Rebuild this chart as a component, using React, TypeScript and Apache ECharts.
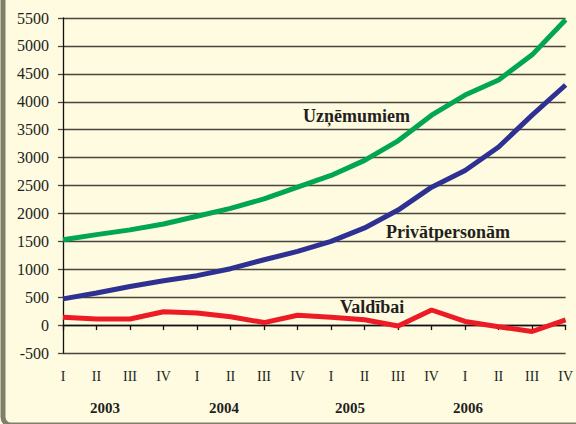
import React, { useEffect, useRef } from "react";
import * as echarts from "echarts";

const quarters = ["I", "II", "III", "IV", "I", "II", "III", "IV", "I", "II", "III", "IV", "I", "II", "III", "IV"];
const years = ["2003", "2004", "2005", "2006"];
const companies = [1530, 1620, 1705, 1810, 1950, 2090, 2260, 2470, 2680, 2950, 3300, 3760, 4120, 4390, 4840, 5470];
const persons = [470, 575, 690, 795, 885, 1010, 1170, 1320, 1500, 1740, 2060, 2470, 2770, 3190, 3760, 4300];
const government = [140, 110, 110, 240, 215, 150, 45, 175, 140, 95, -15, 270, 65, -30, -115, 95];
const seriesNames = ["Uzņēmumiem", "Privātpersonām", "Valdībai"];

const FONT = "'Liberation Serif', 'Times New Roman', serif";
const TEXT = "#231f20";

export default function App() {
  const ref = useRef<HTMLDivElement>(null);
  useEffect(() => {
    document.body.style.margin = "0";
    const chart = echarts.init(ref.current!, null, { renderer: "svg" });
    const yearX = [105, 224, 350, 468];
    chart.setOption({
      animation: false,
      backgroundColor: "#fefbe0",
      grid: { left: 63, right: 8, top: 18, bottom: 71 },
      xAxis: [
        {
          type: "category",
          data: quarters,
          boundaryGap: false,
          position: "bottom",
          axisLine: { show: false, onZero: false },
          axisTick: { show: false },
          axisLabel: { color: TEXT, fontFamily: FONT, fontSize: 14, margin: 16, interval: 0 },
          splitLine: { show: false },
        },
        {
          type: "category",
          data: quarters,
          boundaryGap: false,
          position: "top",
          axisLine: { show: true, onZero: true, lineStyle: { color: "#111", width: 1.3 } },
          axisTick: { show: true, inside: true, length: 5, interval: 0, lineStyle: { color: "#111", width: 1.3 } },
          axisLabel: { show: false },
          splitLine: { show: false },
        },
      ],
      yAxis: {
        type: "value",
        min: -500,
        max: 5500,
        interval: 500,
        axisLine: { show: true, lineStyle: { color: "#111", width: 1.3 } },
        axisTick: { show: true, length: 5, lineStyle: { color: "#4a463c", width: 1.3 } },
        axisLabel: { color: TEXT, fontFamily: FONT, fontSize: 16, margin: 14, formatter: (v: number) => String(v) },
        splitLine: { show: true, lineStyle: { color: "#4a463c", width: 1.3 } },
      },
      series: [
        {
          name: seriesNames[0],
          type: "line",
          data: companies,
          symbol: "none",
          lineStyle: { color: "#00a651", width: 5 },
        },
        {
          name: seriesNames[1],
          type: "line",
          data: persons,
          symbol: "none",
          lineStyle: { color: "#2e3192", width: 5 },
        },
        {
          name: seriesNames[2],
          type: "line",
          data: government,
          symbol: "none",
          lineStyle: { color: "#ed1c24", width: 5 },
        },
      ],
      graphic: [
        {
          type: "rect",
          shape: { x: 3, y: -20, width: 620, height: 445, r: 8 },
          style: { fill: "none", stroke: "#7f7f6c", lineWidth: 5 },
          silent: true,
        },
        ...years.map((y, i) => ({
          type: "text",
          x: yearX[i],
          y: 408,
          style: { text: y, fill: TEXT, font: `bold 15px ${FONT}`, align: "center", verticalAlign: "middle" },
        })),
        {
          type: "text",
          x: 303,
          y: 116,
          style: { text: seriesNames[0], fill: TEXT, font: `bold 18px ${FONT}`, verticalAlign: "middle" },
        },
        {
          type: "text",
          x: 386,
          y: 232,
          style: { text: seriesNames[1], fill: TEXT, font: `bold 18px ${FONT}`, verticalAlign: "middle" },
        },
        {
          type: "text",
          x: 340,
          y: 307,
          style: { text: seriesNames[2], fill: TEXT, font: `bold 18px ${FONT}`, verticalAlign: "middle" },
        },
      ],
    });
    return () => chart.dispose();
  }, []);
  return <div ref={ref} style={{ width: 576, height: 424, position: "fixed", left: 0, top: 0 }} />;
}
